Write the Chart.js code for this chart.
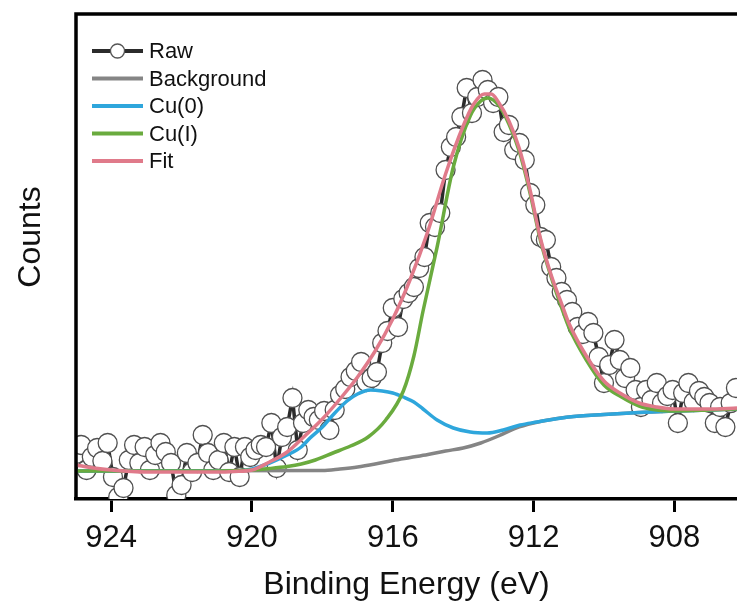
<!DOCTYPE html>
<html>
<head>
<meta charset="utf-8">
<script src="https://cdn.jsdelivr.net/npm/chart.js@4.4.1/dist/chart.umd.min.js"></script>
<style>
  html, body { margin: 0; padding: 0; background: #fff; }
  #wrap { width: 737px; height: 607px; }
</style>
</head>
<body>
<div id="wrap"><canvas id="xps" width="737" height="607"></canvas></div>
<script>
// binding energies of the measured points (eV)
const ENERGY = [
  925.00, 924.85, 924.70, 924.55, 924.40, 924.25, 924.10, 923.95, 923.80, 923.65,
  923.50, 923.35, 923.20, 923.05, 922.90, 922.75, 922.60, 922.45, 922.30, 922.15,
  922.00, 921.85, 921.70, 921.55, 921.40, 921.25, 921.10, 920.95, 920.80, 920.65,
  920.50, 920.35, 920.20, 920.05, 919.90, 919.75, 919.60, 919.45, 919.30, 919.15,
  919.00, 918.85, 918.70, 918.55, 918.40, 918.25, 918.10, 917.95, 917.80, 917.65,
  917.50, 917.35, 917.20, 917.05, 916.90, 916.75, 916.60, 916.45, 916.30, 916.15,
  916.00, 915.85, 915.70, 915.55, 915.40, 915.25, 915.10, 914.95, 914.80, 914.65,
  914.50, 914.35, 914.20, 914.05, 913.90, 913.75, 913.60, 913.45, 913.30, 913.15,
  913.00, 912.85, 912.70, 912.55, 912.40, 912.25, 912.10, 911.95, 911.80, 911.65,
  911.50, 911.35, 911.20, 911.05, 910.90, 910.75, 910.60, 910.45, 910.30, 910.15,
  910.00, 909.85, 909.70, 909.55, 909.40, 909.25, 909.10, 908.95, 908.80, 908.65,
  908.50, 908.35, 908.20, 908.05, 907.90, 907.75, 907.60, 907.45, 907.30, 907.15,
  907.00, 906.85, 906.70, 906.55, 906.40, 906.25
]
const RAW = [
  45, 54, 29, 42, 51, 38, 56, 22, 2, 11,
  39, 54, 36, 52, 29, 44, 56, 47, 36, 4,
  14, 46, 27, 36, 64, 46, 29, 39, 56, 27,
  52, 22, 52, 42, 49, 54, 52, 76, 31, 62,
  72, 101, 49, 76, 89, 82, 79, 88, 69, 89,
  104, 110, 122, 128, 137, 117, 121, 127, 156, 168,
  191, 172, 200, 206, 212, 231, 242, 276, 272, 286,
  329, 352, 362, 382, 411, 386, 402, 419, 409, 396,
  402, 367, 374, 349, 356, 339, 306, 294, 262, 259,
  232, 221, 207, 199, 187, 172, 165, 177, 166, 142,
  116, 134, 159, 139, 121, 131, 109, 92, 109, 99,
  116, 96, 103, 109, 76, 106, 116, 97, 108, 102,
  96, 76, 92, 72, 96, 111
]

// background (Shirley-like)
const BG_X = [925, 918, 917.5, 917, 916.5, 916, 915.5, 915, 914.5, 914, 913.5, 913, 912.5, 912, 911.5, 911, 910, 909, 908, 907, 906.22]
const BG_Y = [28, 28.5, 30, 32, 35, 38.5, 41.5, 44.5, 48, 51, 56, 63, 71, 76, 79.5, 82, 84.5, 86.5, 88, 89, 90]

// Cu(0) component
const CU0_X = [925, 921, 920.5, 920, 919.5, 919, 918.6, 918.35, 918, 917.7, 917.3, 917, 916.64, 916.3, 916, 915.7, 915.4, 915.14, 914.74, 914.28, 913.8, 913.32, 912.86, 912.38, 911.9, 911.4, 911, 910, 909, 908, 907, 906.22]
const CU0_Y = [28, 28, 28, 30, 36, 44, 52, 61, 72, 84, 98, 105, 109, 108, 106, 102, 97, 90, 79, 71, 67, 66, 69, 74, 77, 80, 82, 84.5, 86.5, 88, 89, 90]

// Cu(I) component
const CU1_X = [925, 921, 920, 919.5, 919, 918.6, 918.2, 917.7, 917.2, 916.7, 916.2, 915.7, 915.4, 915.14, 914.74, 914.28, 913.8, 913.5, 913.3, 913, 912.7, 912.4, 912.1, 911.8, 911.5, 911.2, 911, 910.5, 910, 909.5, 909, 908.5, 908, 907, 906.22]
const CU1_Y = [28, 28, 29, 30.5, 32.5, 35, 39, 46, 53, 62, 79, 108, 143, 188, 252, 332, 383, 398, 401, 394, 375, 347, 306, 258, 222, 191, 172, 139, 114, 102, 93, 89, 88, 89, 90]

// envelope fit
const FIT_X = [925, 924.5, 924, 923, 922, 921, 920.5, 920, 919.5, 919, 918.5, 918, 917.5, 917, 916.5, 916, 915.5, 915, 914.5, 914, 913.7, 913.4, 913.2, 913, 912.7, 912.4, 912.1, 911.8, 911.5, 911.2, 911, 910.5, 910, 909.5, 909, 908.5, 908, 907, 906.22]
const FIT_Y = [34, 31, 29, 27, 27, 27, 27.5, 29, 37, 47, 63, 80, 100, 122, 148, 180, 220, 268, 325, 373, 395, 405, 405, 397, 378, 350, 309, 260, 224, 195, 176, 143, 118, 105, 96, 92, 90, 90, 91]

const X_TICKS = [924, 920, 916, 912, 908]
const LABELS = ["Raw", "Background", "Cu(0)", "Cu(I)", "Fit"]
const COLORS = ["#2b2b2b", "#858585", "#2ea6dc", "#6aab3e", "#e07a8a"]
const FONT = "'Liberation Sans', Arial, sans-serif"

function pairs(xs, ys) {
  return xs.map((x, i) => ({ x: x, y: ys[i] }))
}

function curve(i, xs, ys) {
  return {
    label: LABELS[i],
    data: pairs(xs, ys),
    borderColor: COLORS[i],
    borderWidth: 3.5,
    pointRadius: 0,
    cubicInterpolationMode: "monotone",
    clip: 0,
    order: 5 - i,
  }
}

const framePlugin = {
  id: "frame",
  afterDatasetsDraw(chart) {
    const { ctx, chartArea: a } = chart
    ctx.save()
    ctx.strokeStyle = "#000"
    ctx.lineWidth = 3.5
    ctx.beginPath()
    ctx.moveTo(a.left, a.bottom)
    ctx.lineTo(a.left, a.top)
    ctx.lineTo(a.right, a.top)
    ctx.stroke()
    ctx.restore()
  },
}

const legendPlugin = {
  id: "sideLegend",
  afterDraw(chart) {
    const ctx = chart.ctx
    ctx.save()
    ctx.font = "22px " + FONT
    ctx.textBaseline = "middle"
    ctx.fillStyle = "#111"
    LABELS.forEach((label, i) => {
      const y = 51 + i * 27.5
      ctx.strokeStyle = COLORS[i]
      ctx.lineWidth = 4
      ctx.beginPath()
      ctx.moveTo(92, y)
      ctx.lineTo(143, y)
      ctx.stroke()
      if (i === 0) {
        ctx.beginPath()
        ctx.arc(117.5, y, 7, 0, Math.PI * 2)
        ctx.fillStyle = "#fff"
        ctx.fill()
        ctx.lineWidth = 1.3
        ctx.strokeStyle = "#555"
        ctx.stroke()
        ctx.fillStyle = "#111"
      }
      ctx.fillText(label, 149, y + 1)
    })
    // y axis title
    ctx.translate(31, 237)
    ctx.rotate(-Math.PI / 2)
    ctx.font = "32px " + FONT
    ctx.textAlign = "center"
    ctx.fillText("Counts", 0, 0)
    ctx.restore()
  },
}

new Chart(document.getElementById("xps"), {
  type: "line",
  data: {
    datasets: [
      {
        label: LABELS[0],
        data: pairs(ENERGY, RAW),
        borderColor: COLORS[0],
        borderWidth: 3.5,
        pointRadius: 9.5,
        pointBorderWidth: 1.3,
        pointBorderColor: "#505050",
        pointBackgroundColor: "#fff",
        tension: 0,
        clip: 0,
        order: 5,
      },
      curve(1, BG_X, BG_Y),
      curve(2, CU0_X, CU0_Y),
      curve(3, CU1_X, CU1_Y),
      curve(4, FIT_X, FIT_Y),
    ],
  },
  options: {
    responsive: false,
    animation: false,
    layout: { autoPadding: false, padding: { left: 76, top: 14, right: 0, bottom: 0 } },
    plugins: {
      legend: { display: false },
      tooltip: { enabled: false },
    },
    scales: {
      x: {
        type: "linear",
        reverse: true,
        min: 906.22,
        max: 925,
        afterBuildTicks: (scale) => {
          scale.ticks = X_TICKS.map((v) => ({ value: v }))
        },
        afterFit: (scale) => {
          scale.height = 108
        },
        border: { display: true, color: "#000", width: 3.5 },
        grid: {
          display: true,
          drawOnChartArea: false,
          drawTicks: true,
          tickLength: 13,
          tickWidth: 3,
          tickColor: "#000",
        },
        ticks: {
          color: "#111",
          padding: 8,
          maxRotation: 0,
          font: { family: FONT, size: 31 },
        },
        title: {
          display: true,
          text: "Binding Energy (eV)",
          color: "#111",
          font: { family: FONT, size: 32 },
          padding: { top: 0, bottom: 3 },
        },
      },
      y: {
        display: false,
        min: 0,
        max: 485,
      },
    },
  },
  plugins: [framePlugin, legendPlugin],
})
</script>
</body>
</html>
